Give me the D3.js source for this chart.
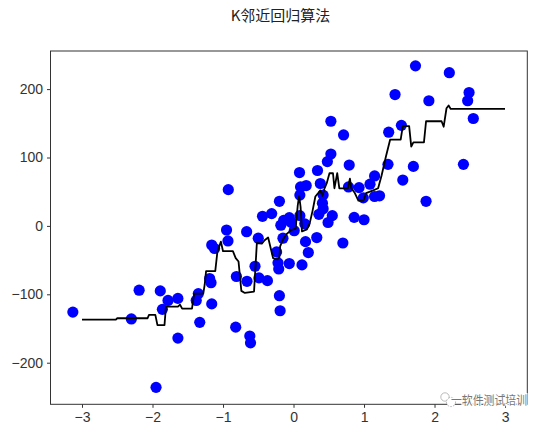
<!DOCTYPE html>
<html><head><meta charset="utf-8">
<script src="https://cdn.jsdelivr.net/npm/d3@7"></script>
<style>
html,body{margin:0;padding:0;background:#fff;}
svg{display:block;}
</style>
</head><body>
<svg id="chart" width="554" height="431"></svg>
<script>
const title = "K邻近回归算法";
const xTicks = [-3, -2, -1, 0, 1, 2, 3];
const yTicks = [-200, -100, 0, 100, 200];

const pointsX = [
  -3.13,-2.30,-2.19,-1.89,-1.86,-1.78,-1.64,-1.64,-1.95,-1.35,-1.38,-1.19,-1.17,-1.16,-1.33,
  -0.925,-0.95,-0.93,-0.665,-1.16,-1.12,-0.50,-0.546,-0.81,-0.66,-0.49,-0.37,-0.82,-0.62,-0.61,
  -0.20,-0.19,-0.24,-0.22,-0.21,-0.06,0.12,0.21,0.17,-0.44,-0.31,-0.20,-0.18,-0.14,-0.15,0.01,
  -0.06,0.09,0.16,0.33,0.36,0.49,0.55,0.70,0.86,1.0,-0.03,
  0.085,0.34,0.10,0.18,0.38,0.09,0.42,0.41,0.42,0.48,0.53,0.53,0.71,0.79,0.78,0.93,0.99,1.085,
  1.15,1.15,1.22,1.34,1.35,1.44,1.53,1.55,1.70,1.73,1.88,1.92,2.21,2.41,2.47,2.49,2.55
];
const pointsY = [
  -126,-136,-94,-95,-122,-109,-106,-164,-236,-99,-109,-77,-83,-114,-141,
  53,-6,-22,-8.5,-28,-33,-18,-59,-74,-81,-76,-80,-148,-161,-171,
  -102,-124,-38,-54,-63,-55,-57,-39,-23,14,18,36,1,8,-18,-7,
  12,15,3,-17,17,5,15,-25,12.5,9,5,
  78,81,57,59,62,45,45,33,25,94,105,153,133,89,57,56,41,61,
  73,43,44,90,137,192,147,67,87,234,36,183,224,90,183,195,157
];

const lineX = [
  -3.00,-2.52,-2.50,-2.07,-2.05,-1.96,-1.93,-1.83,-1.81,-1.64,-1.61,-1.58,-1.44,-1.41,-1.28,
  -1.26,-1.24,-1.11,-1.08,-1.03,-1.00,-0.86,-0.82,-0.78,-0.74,-0.69,-0.56,-0.52,-0.45,-0.41,
  -0.36,-0.29,-0.23,-0.20,-0.19,-0.15,-0.10,-0.03,0.03,0.06,0.08,0.10,0.12,0.19,0.23,0.27,
  0.31,0.35,0.38,0.41,0.44,0.47,0.51,0.56,0.58,0.62,0.65,0.77,0.80,0.82,0.87,0.92,0.99,1.03,
  1.13,1.20,1.25,1.31,1.37,1.52,1.55,1.64,1.67,1.70,1.85,1.88,2.10,2.13,2.17,2.20,2.23,3.00
];
const lineY = [
  -137,-137,-135,-135,-130,-130,-145,-145,-118,-118,-115,-121,-121,-99,-99,
  -86,-66,-66,-38,-23,-37,-37,-47,-52,-95,-98,-96,-25,-26,-21,
  -17,-47,-49,-46,-30,-20,-12,-6,-4,30,44,28,-8,-5,4,22,
  43,48,52,44,55,62,77,77,55,77,55,55,69,55,48,37,37,48,
  52,55,74,101,126,126,146,146,116,122,122,153,153,145,172,176,171,171
];

const svg = d3.select("#chart");
const x = d3.scaleLinear().domain([-3.447, 3.316]).range([50.5, 527.3]);
const y = d3.scaleLinear().domain([-260.8, 255.7]).range([404.3, 51]);

const tickFont = "'Liberation Sans Narrow','Liberation Sans',Arial,sans-serif";

// title
svg.append("text").attr("x", 280.5).attr("y", 20.5).attr("text-anchor", "middle")
  .attr("font-family", "'Noto Sans CJK SC',sans-serif").attr("font-size", 15)
  .attr("fill", "#222").text(title);

// points
svg.append("g").selectAll("circle").data(pointsX.map((d, i) => [d, pointsY[i]]))
  .join("circle")
  .attr("cx", d => x(d[0])).attr("cy", d => y(d[1])).attr("r", 5.6)
  .attr("fill", "#0000ff");

// line
const lineData = lineX.map((d, i) => [d, lineY[i]]);
svg.append("path").datum(lineData)
  .attr("d", d3.line().x(d => x(d[0])).y(d => y(d[1])))
  .attr("fill", "none").attr("stroke", "#000").attr("stroke-width", 1.8)
  .attr("stroke-linejoin", "round");

// axes
const fmt = d => d < 0 ? "\u2212" + Math.abs(d) : String(d);
const xAxis = svg.append("g").attr("transform", "translate(0,404.3)")
  .call(d3.axisBottom(x).tickValues(xTicks).tickFormat(fmt).tickSize(3.5).tickPadding(4));
const yAxis = svg.append("g").attr("transform", "translate(50.5,0)")
  .call(d3.axisLeft(y).tickValues(yTicks).tickFormat(fmt).tickSize(3.5).tickPadding(4));
[xAxis, yAxis].forEach(a => {
  a.select(".domain").remove();
  a.selectAll("line").attr("stroke", "#333").attr("stroke-width", 1);
  a.selectAll("text").attr("font-family", tickFont).attr("font-size", 14).attr("fill", "#333");
});

// frame
svg.append("rect").attr("x", 50.5).attr("y", 51).attr("width", 527.3 - 50.5).attr("height", 404.3 - 51)
  .attr("fill", "none").attr("stroke", "#333").attr("stroke-width", 1);

// watermark
const wm = svg.append("g").attr("transform", "translate(440,393)");
wm.append("circle").attr("cx", 5).attr("cy", 4).attr("r", 4.2).attr("fill", "#fff").attr("stroke", "#aaa").attr("stroke-width", 0.8);
wm.append("circle").attr("cx", 11).attr("cy", 9).attr("r", 4.6).attr("fill", "#fff").attr("stroke", "#aaa").attr("stroke-width", 0.8).attr("stroke-dasharray", "2,1");
svg.append("text").attr("x", 451).attr("y", 404.5).attr("font-family", "'Noto Sans CJK SC',sans-serif")
  .attr("font-size", 12.5).attr("fill", "#777").attr("stroke", "#fff").attr("stroke-width", 2.5)
  .attr("paint-order", "stroke").attr("textLength", 76).attr("lengthAdjust", "spacingAndGlyphs")
  .text("一软件测试培训");
</script>
</body></html>
